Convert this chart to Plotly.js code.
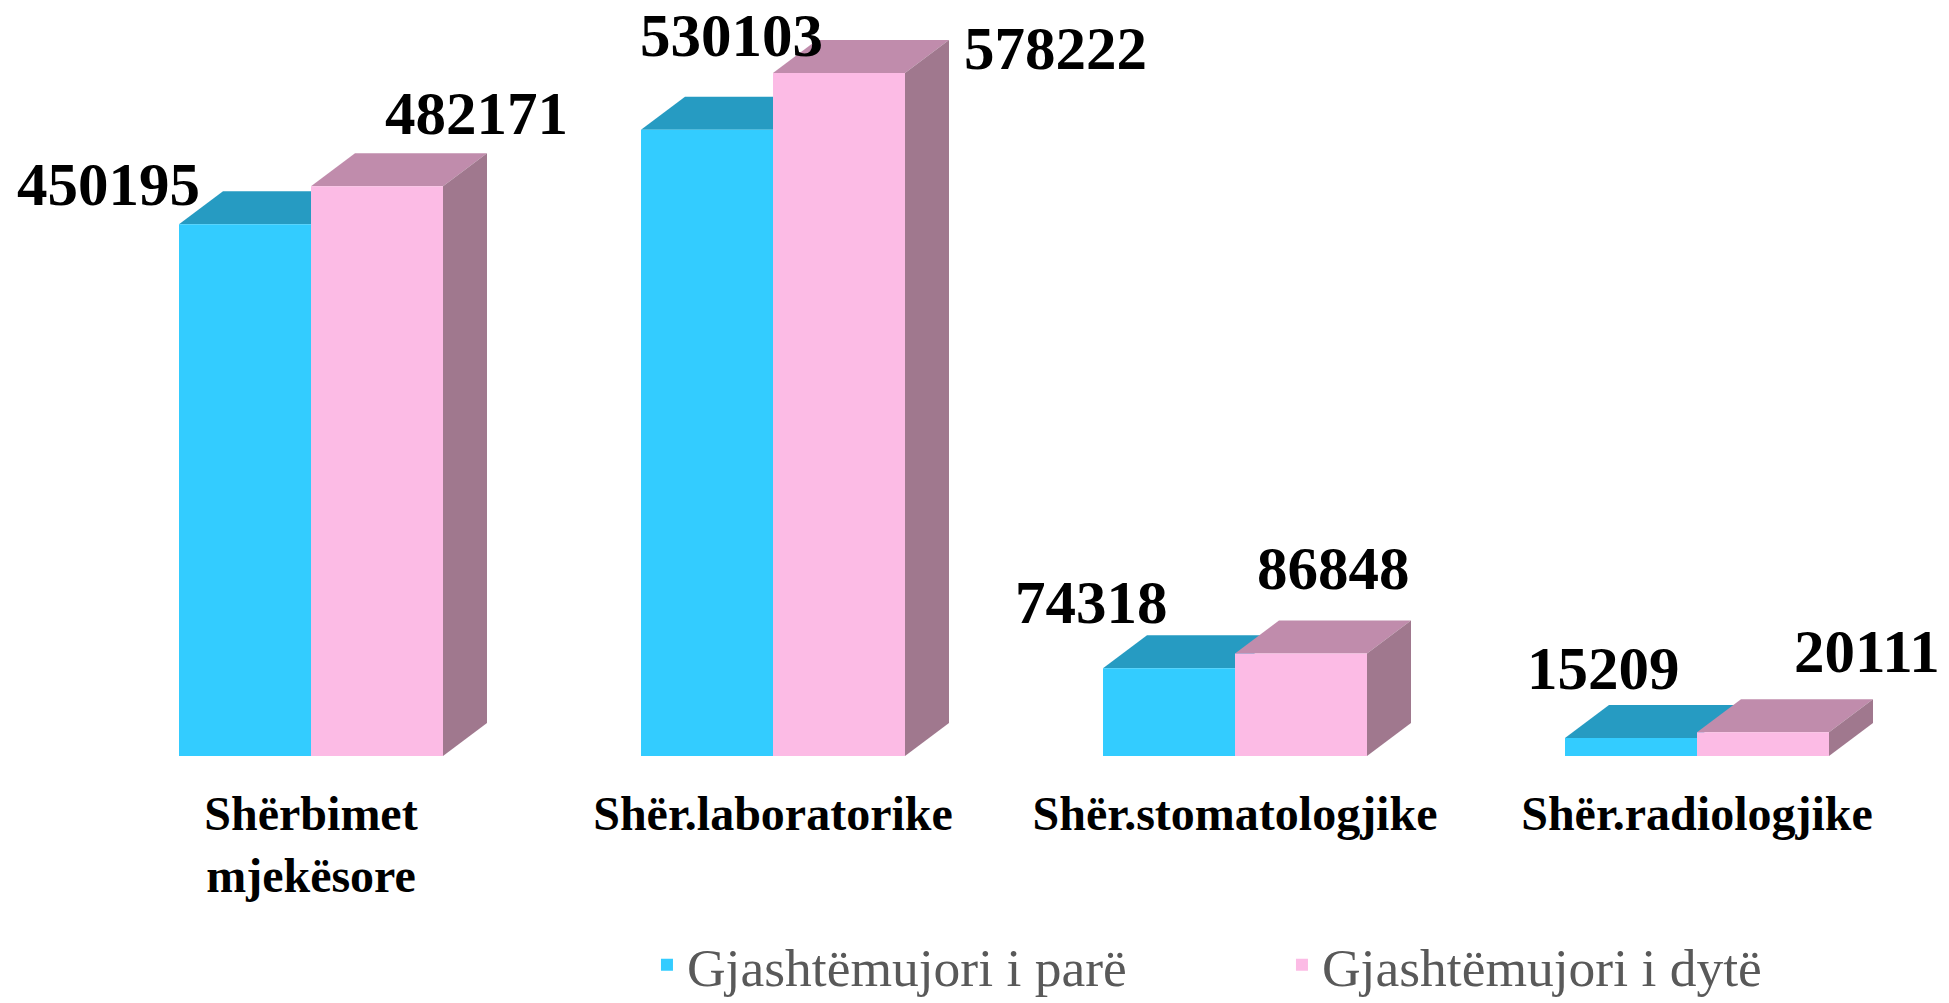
<!DOCTYPE html>
<html>
<head>
<meta charset="utf-8">
<script src="https://cdn.plot.ly/plotly-3.0.1.min.js"></script>
<style>html,body{margin:0;padding:0;background:#fff;}#chart{width:1949px;height:1003px;}</style>
</head>
<body>
<div id="chart"></div>
<script>
// ---- data ----
const categories = ["Shërbimet<br>mjekësore", "Shër.laboratorike", "Shër.stomatologjike", "Shër.radiologjike"];
const seriesNames = ["Gjashtëmujori i parë", "Gjashtëmujori i dytë"];
const firstHalf = [450195, 530103, 74318, 15209];
const secondHalf = [482171, 578222, 86848, 20111];

// ---- layout constants ----
const W = 1949, H = 1003;
const M = {l: 80, r: 21, t: 20, b: 247, autoexpand: false};
const plotW = W - M.l - M.r, plotH = H - M.t - M.b;
const yMax = 623000;
const bargap = 0.4286;
const pxPerUnit = plotH / yMax;
const catPx = plotW / categories.length;
const barPx = catPx * (1 - bargap) / 2;
const depthX = 44, depthY = 33;

const frontColors = ["#33CCFF", "#FCBBE5"];
const topColors = ["#269BC2", "#C08CAC"];
const sideColors = ["#269BC2", "#A0788E"];

// label offsets (px) relative to category centre / bar top
const labelShiftX = [[-203, -42, -144, -94], [165, 282, 98, 170]];
const labelShiftY = [[40, 94, 66, 70], [73, 24, 85, 81]];

const series = [firstHalf, secondHalf];
const xIdx = categories.map((c, i) => i);

const traces = series.map((vals, s) => ({
  type: "bar",
  name: seriesNames[s],
  x: xIdx,
  y: vals,
  marker: {color: frontColors[s], line: {width: 0}},
  hoverinfo: "y+name"
}));

const shapes = [];
series.forEach((vals, s) => {
  const x0 = s === 0 ? -barPx : 0;
  const x1 = x0 + barPx;
  vals.forEach((v, j) => {
    // top face
    shapes.push({
      type: "path", layer: "below",
      xref: "x", yref: "y",
      xsizemode: "pixel", xanchor: j,
      ysizemode: "pixel", yanchor: v,
      path: `M${x0},0 L${x1},0 L${x1 + depthX},${depthY} L${x0 + depthX},${depthY} Z`,
      fillcolor: topColors[s], line: {width: 0}
    });
    // side face (only visible for the rear series)
    if (s === 1) {
      const dyData = depthY / pxPerUnit;
      shapes.push({
        type: "path", layer: "below",
        xref: "x", yref: "y",
        xsizemode: "pixel", xanchor: j,
        path: `M${x1},0 L${x1},${v} L${x1 + depthX},${v + dyData} L${x1 + depthX},${dyData} Z`,
        fillcolor: sideColors[s], line: {width: 0}
      });
    }
  });
});

const annotations = [];
series.forEach((vals, s) => {
  vals.forEach((v, j) => {
    annotations.push({
      x: j, y: v, xref: "x", yref: "y",
      text: String(v), showarrow: false,
      xanchor: "center", yanchor: "middle",
      xshift: labelShiftX[s][j], yshift: labelShiftY[s][j],
      font: {family: "Liberation Serif, Times New Roman, serif", size: 61, color: "#000000", weight: "bold"}
    });
  });
});

const layout = {
  width: W, height: H,
  margin: M,
  paper_bgcolor: "#ffffff",
  plot_bgcolor: "rgba(0,0,0,0)",
  barmode: "group",
  bargap: bargap,
  bargroupgap: 0,
  showlegend: true,
  legend: {
    orientation: "h",
    x: 0.3068, xanchor: "left",
    y: -0.284, yanchor: "middle",
    entrywidth: 590, entrywidthmode: "pixels",
    font: {family: "Liberation Serif, Times New Roman, serif", size: 53.5, color: "#595959"},
    traceorder: "normal"
  },
  xaxis: {
    type: "linear",
    range: [-0.5, categories.length - 0.5],
    tickvals: xIdx,
    ticktext: categories,
    showgrid: false, zeroline: false, showline: false, ticks: "",
    ticklabelstandoff: 25,
    tickfont: {family: "Liberation Serif, Times New Roman, serif", size: 48, color: "#000000", weight: "bold"},
    fixedrange: true
  },
  yaxis: {
    range: [0, yMax],
    visible: false, showgrid: false, zeroline: false, fixedrange: true
  },
  shapes: shapes,
  annotations: annotations
};

Plotly.newPlot("chart", traces, layout, {displayModeBar: false, staticPlot: true});
</script>
</body>
</html>
